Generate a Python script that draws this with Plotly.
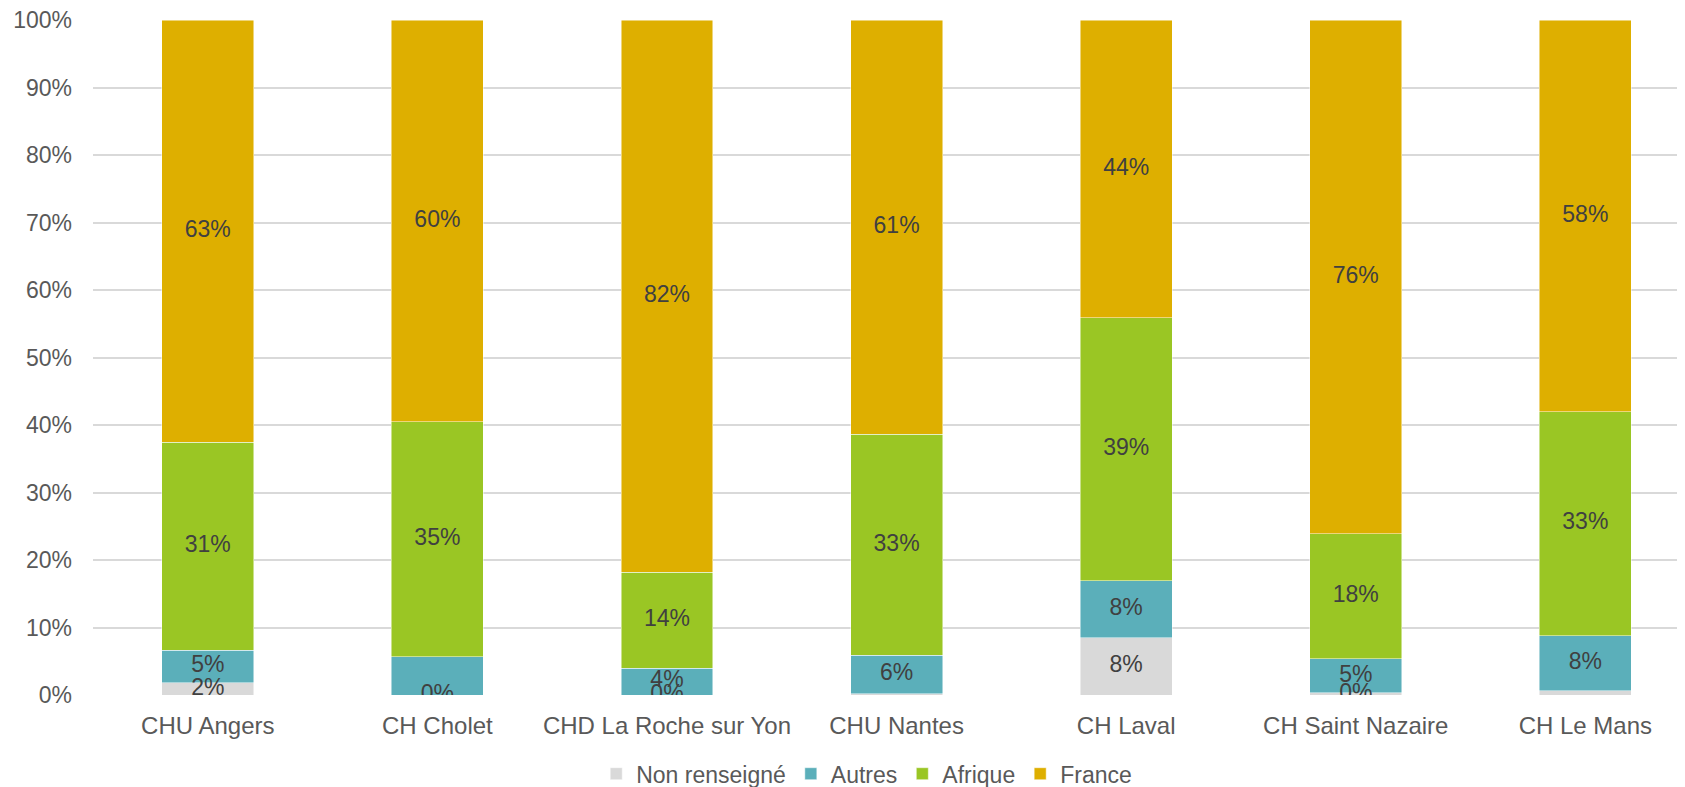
import plotly.graph_objects as go

categories = ["CHU Angers", "CH Cholet", "CHD La Roche sur Yon", "CHU Nantes",
              "CH Laval", "CH Saint Nazaire", "CH Le Mans"]

non_renseigne = [1.8, 0.0, 0.0, 0.2, 8.45, 0.3, 0.6]
autres        = [4.85, 5.7, 4.0, 5.7, 8.45, 5.1, 8.2]
afrique       = [30.8, 34.8, 14.2, 32.7, 39.0, 18.5, 33.2]
france        = [62.55, 59.5, 81.8, 61.4, 44.1, 76.1, 58.0]

# which data labels Excel kept visible
show_nr  = [True, True, True, False, True, True, False]
show_aut = [True, False, True, True, True, True, True]
show_afr = [True] * 7
show_fr  = [True] * 7

series = [
    ("Non renseigné", non_renseigne, "#D9D9D9", show_nr),
    ("Autres", autres, "#5BAFBA", show_aut),
    ("Afrique", afrique, "#9AC624", show_afr),
    ("France", france, "#DEAF00", show_fr),
]

TXT = "#404040"
AX = "#595959"
FONT = "Liberation Sans, Arial, sans-serif"

fig = go.Figure()
base = [0.0] * len(categories)
lab_x, lab_y, lab_t = [], [], []
for name, vals, color, show in series:
    fig.add_trace(go.Bar(
        x=categories, y=vals, name=name,
        marker=dict(color=color, line=dict(color="rgba(255,255,255,0.6)", width=0.8)),
        width=0.4,
        hovertemplate="<b>%{x}</b><br>" + name + ": %{y:.0f}%<extra></extra>",
    ))
    for i, v in enumerate(vals):
        if show[i]:
            lab_x.append(categories[i])
            lab_y.append(base[i] + v / 2)
            lab_t.append(f"{v:.0f}%")
        base[i] += v

fig.add_trace(go.Scatter(
    x=lab_x, y=lab_y, text=lab_t, mode="text",
    textfont=dict(size=23, color=TXT, family=FONT),
    showlegend=False, hoverinfo="skip",
))

# page body has an 8px margin, so the figure is 8px smaller than the window
fig.update_layout(
    barmode="stack",
    width=1677, height=779,
    margin=dict(l=85, r=0, t=12, b=92),
    paper_bgcolor="#FFFFFF",
    plot_bgcolor="#FFFFFF",
    font=dict(family=FONT, color=AX),
    xaxis=dict(
        range=[-0.5, 6.434],
        tickfont=dict(size=24, color=AX),
        ticklabelstandoff=14,
        showgrid=False,
        showline=False,
        zeroline=False,
    ),
    yaxis=dict(
        range=[0, 100],
        tickvals=[0, 10, 20, 30, 40, 50, 60, 70, 80, 90, 100],
        ticktext=[f"{t}%" for t in range(0, 101, 10)],
        tickfont=dict(size=23, color=AX),
        ticklabelstandoff=20,
        ticklabeloverflow="allow",
        showgrid=True,
        gridcolor="#D9D9D9",
        gridwidth=1.5,
        zeroline=False,
        showline=False,
    ),
    legend=dict(
        orientation="h",
        x=0.486, xanchor="center",
        yref="container", y=0.017, yanchor="middle",
        font=dict(size=23, color=AX),
        itemwidth=30,
        traceorder="normal",
    ),
)

fig.write_html("out.html")
